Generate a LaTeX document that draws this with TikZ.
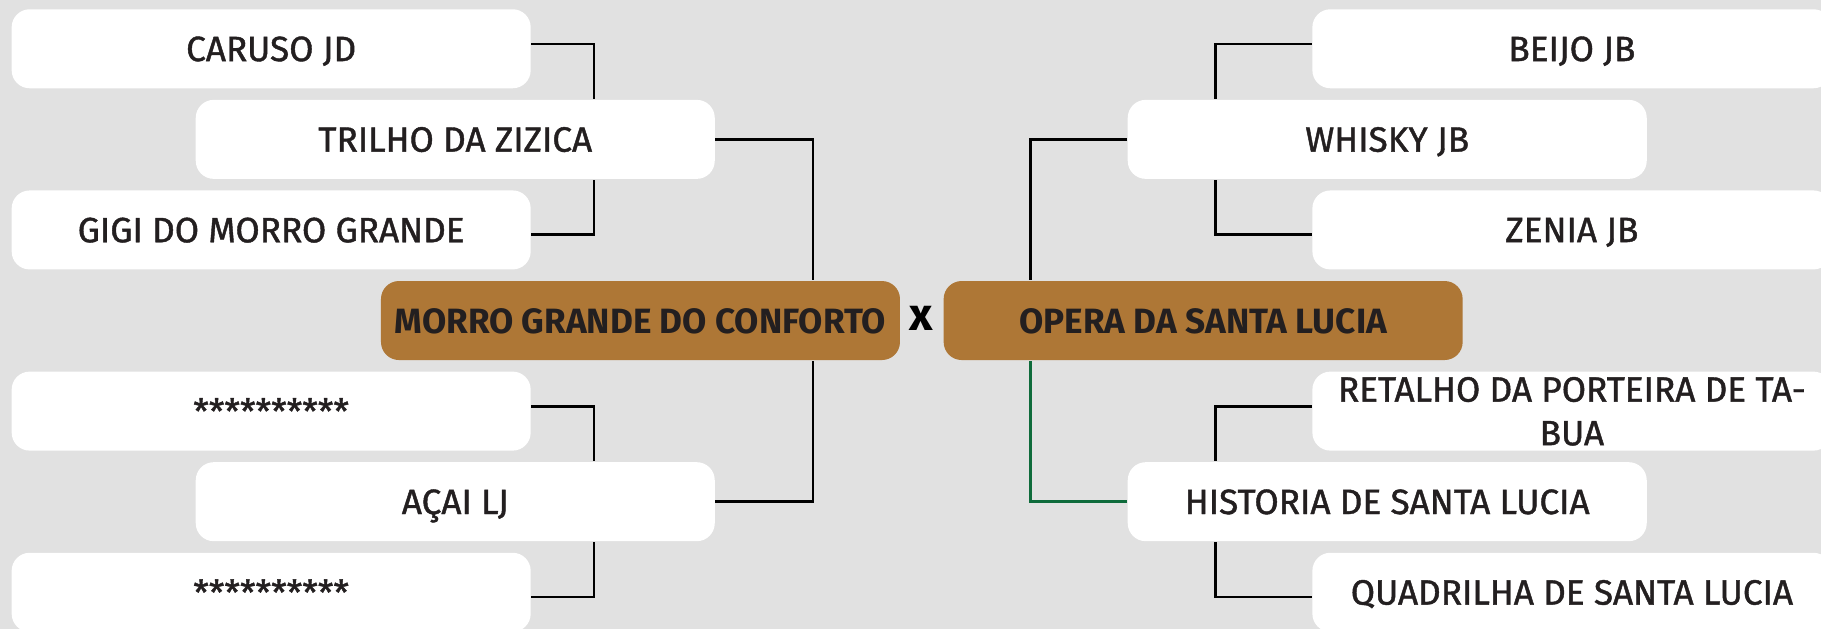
\documentclass[tikz,border=0pt]{standalone}
\usepackage{fontspec}
\setmainfont{Fira Sans}[UprightFeatures = {FakeBold = 1.2}]
\usetikzlibrary{calc}

\definecolor{paper}{HTML}{E1E1E1}
\definecolor{bronze}{HTML}{AE7736}
\definecolor{ink}{HTML}{231F20}
\definecolor{pine}{HTML}{0E6B3B}

\tikzset{
    team/.style = {fill = white, rounded corners = 1.8mm, minimum width = 51.9mm,
        minimum height = 7.9mm, inner sep = 0pt, text = ink, align = center,
        text depth = 0pt, font = \fontsize{10}{12.4}\selectfont},
    final/.style = {team, fill = bronze, font = \fontsize{10}{12.4}\selectfont\bfseries},
    link/.style = {draw = black, line width = .7pt},
}

\begin{document}
\begin{tikzpicture}[x = .11614mm, y = -.11614mm]%
    \fill[paper] (0, 0) rectangle (1568, 542);
    \useasboundingbox (0, 0) rectangle (1568, 542);
    % left half
    \node[team] (caruso) at (233.5, 42) {CARUSO JD};
    \node[team] (trilho) at (392, 120) {TRILHO DA ZIZICA};
    \node[team] (gigi) at (233.5, 198) {GIGI DO MORRO GRANDE};
    \node[final] (morro) at (551.5, 276) {MORRO GRANDE DO CONFORTO};
    \node[team] (vagoA) at (233.5, 354) {**********};
    \node[team] (acai) at (392, 432) {AÇAI LJ};
    \node[team] (vagoB) at (233.5, 510) {**********};
    % right half
    \node[team] (beijo) at (1353.5, 42) {BEIJO JB};
    \node[team] (whisky) at (1194.5, 120) {WHISKY JB};
    \node[team] (zenia) at (1353.5, 198) {ZENIA JB};
    \node[final] (opera) at (1036, 276) {OPERA DA SANTA LUCIA};
    \node[team] (retalho) at (1353.5, 354) {RETALHO DA PORTEIRA DE TA-\\BUA};
    \node[team] (historia) at (1194.5, 432) {HISTORIA DE SANTA LUCIA};
    \node[team] (quadrilha) at (1353.5, 510) {QUADRILHA DE SANTA LUCIA};
    \node[font = \fontsize{13}{14}\selectfont\bfseries] (versus) at (793, 274) {x};
    % brackets
    \draw[link] (caruso.east) ++(0, -4) -- ++(54, 0) coordinate (k1) -- (k1 |- trilho.north);
    \draw[link] (gigi.east) ++(0, 4) -- ++(54, 0) coordinate (k2) -- (k2 |- trilho.south);
    \draw[link] (trilho.east) -- ++(84, 0) coordinate (k3) -- (k3 |- morro.north);
    \draw[link] (vagoA.east) ++(0, -4) -- ++(54, 0) coordinate (k4) -- (k4 |- acai.north);
    \draw[link] (vagoB.east) ++(0, 4) -- ++(54, 0) coordinate (k5) -- (k5 |- acai.south);
    \draw[link] (acai.east) -- ++(84, 0) coordinate (k6) -- (k6 |- morro.south);
    \draw[link] (beijo.west) ++(0, -4) -- ++(-83, 0) coordinate (k7) -- (k7 |- whisky.north);
    \draw[link] (zenia.west) ++(0, 4) -- ++(-83, 0) coordinate (k8) -- (k8 |- whisky.south);
    \draw[link] (whisky.west) -- ++(-83, 0) coordinate (k9) -- (k9 |- opera.north);
    \draw[link] (retalho.west) ++(0, -4) -- ++(-83, 0) coordinate (k10) -- (k10 |- historia.north);
    \draw[link] (quadrilha.west) ++(0, 4) -- ++(-83, 0) coordinate (k11) -- (k11 |- historia.south);
    \draw[link, pine] (historia.west) -- ++(-83, 0) coordinate (k12) -- (k12 |- opera.south);
\end{tikzpicture}
\end{document}
